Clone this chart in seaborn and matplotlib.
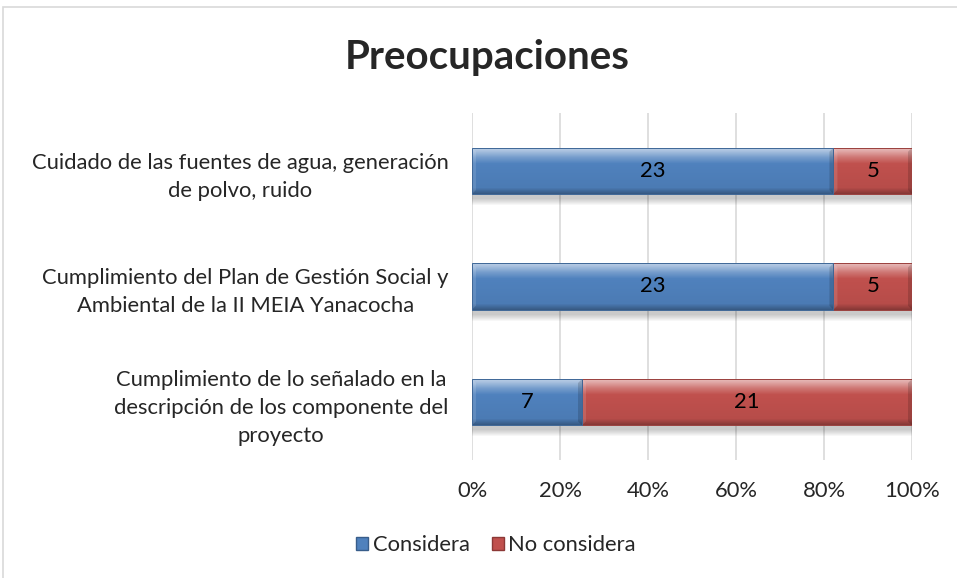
import numpy as np
import pandas as pd
import matplotlib
matplotlib.use("Agg")
import matplotlib.pyplot as plt
import matplotlib.colors as mcolors
from matplotlib.patches import Rectangle, Patch, Polygon
import seaborn as sns

# Survey responses per concern
categorias = [
    "Cuidado de las fuentes de agua, generación\nde polvo, ruido",
    "Cumplimiento del Plan de Gestión Social y\nAmbiental de la II MEIA Yanacocha",
    "Cumplimiento de lo señalado en la\ndescripción de los componente del\nproyecto",
]
considera = [23, 23, 7]
no_considera = [5, 5, 21]
ticks_pct = [0, 20, 40, 60, 80, 100]
titulo = "Preocupaciones"
series = ["Considera", "No considera"]

sns.set_theme(style="white")
plt.rcParams["font.family"] = ["Lato", "DejaVu Sans"]

total = np.array(considera) + np.array(no_considera)
df = pd.DataFrame({
    "categoria": categorias,
    "considera": np.array(considera) / total * 100,
    "total": np.full(len(categorias), 100.0),
})

W, H = 957, 578
FS = 15.8
AX_W_PX, AX_H_PX = 440, 347
fig = plt.figure(figsize=(W / 100, H / 100), dpi=100)
ax = fig.add_axes([472 / W, 1 - 460 / H, AX_W_PX / W, AX_H_PX / H])

blue, red = "#4F81BD", "#C0504D"
sns.barplot(data=df, x="total", y="categoria", orient="h", color=red,
            width=0.4, saturation=1, ax=ax)
sns.barplot(data=df, x="considera", y="categoria", orient="h", color=blue,
            width=0.4, saturation=1, ax=ax)

n = len(categorias)
red_patches = list(ax.patches[:n])
blue_patches = list(ax.patches[n:2 * n])
# the red segment starts where the blue one ends
for rp, bp in zip(red_patches, blue_patches):
    rp.set_x(bp.get_width())
    rp.set_width(100 - bp.get_width())

# data units per screen pixel
PX_X = 100 / AX_W_PX
PX_Y = n / AX_H_PX

# colour stops of the bevel, from top (0) to bottom (1): (position, lighten, darken)
STOPS = [(0.00, 0.62, 1.00), (0.07, 0.50, 1.00), (0.20, 0.22, 1.00),
         (0.34, 0.00, 1.00), (0.86, 0.00, 0.95), (1.00, 0.00, 0.68)]


def shade(base, v):
    c = np.array(mcolors.to_rgb(base))
    pos = [s[0] for s in STOPS]
    lig = np.interp(v, pos, [s[1] for s in STOPS])
    drk = np.interp(v, pos, [s[2] for s in STOPS])
    col = (c + (1 - c) * lig) * drk
    return mcolors.to_hex(np.clip(col, 0, 1))


# soft drop shadow under each row of bars
for bp in blue_patches:
    y0, h = bp.get_y(), bp.get_height()
    for k in range(7):
        ax.add_patch(Rectangle((-0.3 + k * 0.05 * PX_X, y0 + 4 * PX_Y),
                               100.8, h + (1 + k) * PX_Y,
                               facecolor="black", alpha=0.03,
                               edgecolor="none", zorder=1))

STRIPS = 46
B = 4  # bevel width in pixels
for patches, base in ((red_patches, red), (blue_patches, blue)):
    c = np.array(mcolors.to_rgb(base))
    for p in patches:
        x0, y0, w, h = p.get_x(), p.get_y(), p.get_width(), p.get_height()
        top, bot = min(y0, y0 + h), max(y0, y0 + h)
        x1 = x0 + w
        p.set_zorder(2)
        p.set_edgecolor("none")
        # vertical bevel gradient drawn as thin strips (top = smaller y, axis inverted)
        dh = (bot - top) / STRIPS
        for i in range(STRIPS):
            ax.add_patch(Rectangle((x0, top + i * dh), w, dh * 1.05,
                                   facecolor=shade(base, (i + 0.5) / STRIPS),
                                   edgecolor="none", zorder=5))
        bx, by = B * PX_X, B * PX_Y
        # left facet (lighter) and right facet (darker)
        ax.add_patch(Polygon([(x0, top), (x0 + bx, top + by), (x0 + bx, bot - by),
                              (x0, bot)], closed=True, facecolor="white",
                             alpha=0.12, edgecolor="none", zorder=6))
        ax.add_patch(Polygon([(x1, top), (x1 - bx, top + by), (x1 - bx, bot - by),
                              (x1, bot)], closed=True, facecolor="black",
                             alpha=0.15, edgecolor="none", zorder=6))
        ax.add_patch(Rectangle((x0, top), w, bot - top, facecolor="none",
                               edgecolor=tuple(c * 0.8), linewidth=0.7,
                               zorder=7))

# value labels
for bp, rp, vc, vn in zip(blue_patches, red_patches, considera, no_considera):
    yc = bp.get_y() + bp.get_height() / 2
    ax.text(bp.get_x() + bp.get_width() / 2, yc, str(vc), ha="center",
            va="center", fontsize=FS, color="black", zorder=8)
    ax.text(rp.get_x() + rp.get_width() / 2, yc, str(vn), ha="center",
            va="center", fontsize=FS, color="black", zorder=8)

ax.set_xlim(0, 100)
ax.set_ylim(n - 0.5, -0.5)
ax.set_xticks(ticks_pct)
ax.set_xticklabels([f"{t}%" for t in ticks_pct], fontsize=FS)
ax.set_yticks(range(n))
ax.set_yticklabels(categorias, fontsize=FS, multialignment="center",
                   linespacing=1.5)
ax.tick_params(axis="y", length=0, pad=17)
ax.tick_params(axis="x", length=0, pad=15)
ax.set_xlabel("")
ax.set_ylabel("")
ax.xaxis.grid(True, color="#D9D9D9", linewidth=1.2, zorder=0)
ax.set_axisbelow(True)
for s in ax.spines.values():
    s.set_visible(False)

fig.text(487 / W, 1 - 57 / H, titulo, ha="center", va="center",
         fontsize=29, fontweight="bold")

handles = [Patch(facecolor=blue, edgecolor="#385D8A", label=series[0]),
           Patch(facecolor=red, edgecolor="#8C3836", label=series[1])]
fig.legend(handles=handles, loc="center", bbox_to_anchor=(496 / W, 1 - 545 / H),
           ncol=2, frameon=False, fontsize=FS, handlelength=0.55,
           handleheight=0.55, handletextpad=0.2, columnspacing=1.0)

# chart area border
fig.patches.append(Rectangle((3 / W, -0.1), 1.2, 1 - 7 / H + 0.1,
                             transform=fig.transFigure, fill=False,
                             edgecolor="#D9D9D9", linewidth=1.2))

fig.savefig("out.png", dpi=100)
